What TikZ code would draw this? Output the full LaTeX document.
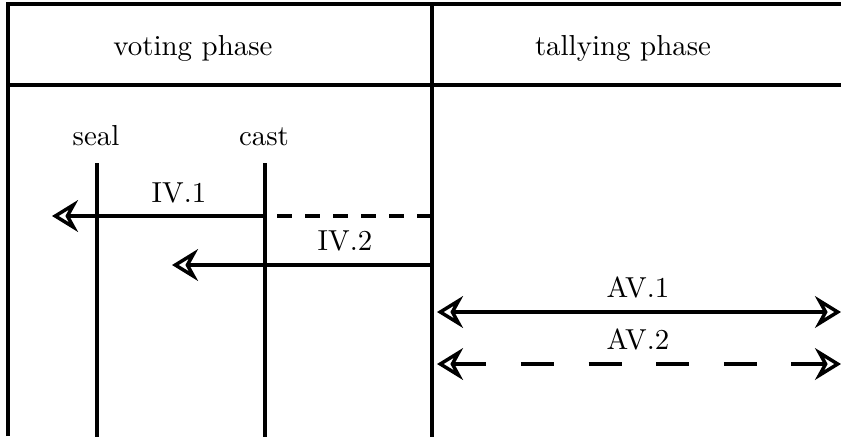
\documentclass[tikz,border=0pt]{standalone}
\usetikzlibrary{arrows.meta}
\begin{document}
\begin{tikzpicture}[x=0.346pt, y=-0.346pt,
  rule/.style={line width=1.2pt, line join=miter},
  tip/.tip={Stealth[open, length=9pt, width=11pt, inset=3pt]},
  msg/.style={line width=1.2pt},
  shortdash/.style={dash pattern=on 5.2pt off 4.5pt},
  longdash/.style={dash pattern=on 11.5pt off 11.9pt},
  lbl/.style={anchor=base, inner sep=0pt}]
\useasboundingbox (0,0) rectangle (841,436);

% frame, header row and phase divider
\draw[rule] (8,436) -- (8,4) -- (845,4);
\draw[rule] (8,85) -- (845,85);
\draw[rule] (432,4) -- (432,440);

% phase titles
\node[lbl] (voting) at (193,55) {voting phase};
\node[lbl] (tallying) at (623,55) {tallying phase};

% lifelines of the voting phase
\node[lbl] (seal) at (96,145) {seal};
\node[lbl] (cast) at (264,145) {cast};
\coordinate (sealtop) at (97,163);
\coordinate (sealbot) at (97,440);
\coordinate (casttop) at (265,163);
\coordinate (castbot) at (265,440);
\draw[rule] (sealtop) -- (sealbot);
\draw[rule] (casttop) -- (castbot);

% IV.1: dashed from the divider to cast, solid on to seal
\coordinate (ivAstart) at (432,216);
\coordinate (ivAmid) at (265,216);
\coordinate (ivAend) at (52,216);
\draw[msg, shortdash] (ivAstart) -- (ivAmid);
\draw[msg, -tip] (ivAmid) -- (ivAend);
\node[lbl] (ivAlabel) at (179,202) {IV.1};

% IV.2
\coordinate (ivBstart) at (432,265);
\coordinate (ivBend) at (172,265);
\draw[msg, -tip] (ivBstart) -- (ivBend);
\node[lbl] (ivBlabel) at (345,250) {IV.2};

% AV.1 and AV.2 in the tallying phase
\coordinate (avAleft) at (437,312);
\coordinate (avAright) at (841,312);
\draw[msg, tip-tip] (avAleft) -- (avAright);
\node[lbl] (avAlabel) at (638,297) {AV.1};

\coordinate (avBleft) at (437,364);
\coordinate (avBright) at (841,364);
\draw[msg, longdash, tip-tip] (avBleft) -- (avBright);
\node[lbl] (avBlabel) at (638,349) {AV.2};
\end{tikzpicture}
\end{document}
